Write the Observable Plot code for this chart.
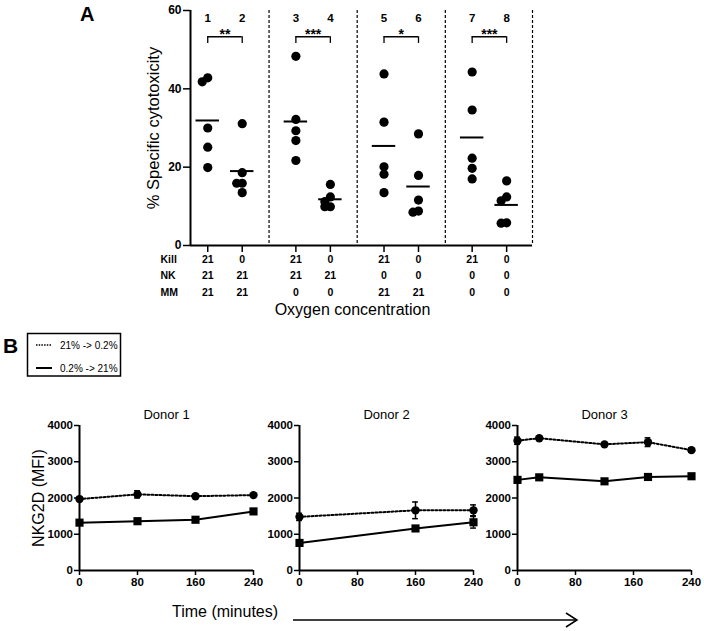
<!DOCTYPE html>
<html><head><meta charset="utf-8">
<script src="https://cdn.jsdelivr.net/npm/d3@7"></script>
<script src="https://cdn.jsdelivr.net/npm/@observablehq/plot@0.6"></script>
<style>
body{margin:0;background:#fff;font-family:"Liberation Sans",Arial,sans-serif;}
#root{position:relative;width:704px;height:631px;overflow:hidden;background:#fff;}
</style></head>
<body><div id="root"></div>
<script>
// ---------- Panel A data ----------
const groupIds = ["1","2","3","4","5","6","7","8"];
const killO2 = ["21","0","21","0","21","0","21","0"];
const nkO2   = ["21","21","21","21","0","0","0","0"];
const mmO2   = ["21","21","0","0","21","21","0","0"];
const rowLabels = ["Kill","NK","MM"];
const cytotoxicity = [
  [42.8, 41.8, 30.0, 25.1, 19.9],
  [31.1, 18.6, 15.9, 15.9, 13.5],
  [48.3, 32.2, 29.3, 26.8, 21.7],
  [15.6, 12.4, 11.2, 9.9, 9.9],
  [43.8, 31.5, 20.1, 18.2, 13.5],
  [28.5, 17.9, 11.6, 8.8, 8.5],
  [44.3, 34.6, 22.3, 19.7, 17.0],
  [16.5, 12.4, 11.4, 5.8, 5.7]
];
const significance = ["**","***","*","***"];
const yTicksA = [0, 20, 40, 60];

// ---------- Panel B data ----------
const donorNames = ["Donor 1","Donor 2","Donor 3"];
const donorTimes = [[0,80,160,240],[0,160,240],[0,30,120,180,240]];
const hypoxiaMFI = [[1970,2100,2050,2080],[1480,1660,1660],[3580,3650,3480,3540,3320]]; // 21% -> 0.2%
const hypoxiaSEM = [[0,100,0,0],[100,230,150],[100,0,0,120,60]];
const reoxMFI    = [[1320,1360,1400,1630],[760,1160,1330],[2500,2570,2460,2580,2600]]; // 0.2% -> 21%
const reoxSEM    = [[0,0,0,50],[0,60,160],[80,0,0,0,0]];
const seriesNames = ["21% -> 0.2%","0.2% -> 21%"];
const xTicksB = [0, 80, 160, 240];
const yTicksB = [0, 1000, 2000, 3000, 4000];

const FONT = "'Liberation Sans', Arial, sans-serif";
const root = document.getElementById("root");
function place(node, left, top, width) {
  const wrap = document.createElement("div");
  wrap.style.position = "absolute";
  wrap.style.left = left + "px";
  wrap.style.top = top + "px";
  wrap.style.width = width + "px";
  wrap.appendChild(node);
  root.appendChild(wrap);
}

// ---------- Panel A ----------
const pairGap = 0.556;
const pos = i => i + pairGap * Math.floor(i / 2);
const xDomainA = [pos(0) - 0.5, pos(7) + 0.75];
const pxPerX = 342 / (xDomainA[1] - xDomainA[0]);
const pxPerY = 235 / 60;

// simple collision-avoiding horizontal offset for overlapping dots
const points = [];
cytotoxicity.forEach((vals, g) => {
  const placed = [];
  vals.forEach(v => {
    const cands = [0, -0.16, 0.16, -0.32, 0.32];
    let off = 0;
    for (const c of cands) {
      const ok = placed.every(p => Math.hypot((p.off - c) * pxPerX, (p.v - v) * pxPerY) >= 5);
      if (ok) { off = c; break; }
    }
    placed.push({v, off});
    points.push({group: g, x: pos(g) + off, v});
  });
});
const means = cytotoxicity.map((vals, g) => ({x: pos(g), m: d3.mean(vals)}));
const pairs = significance.map((s, k) => ({x1: pos(2 * k), x2: pos(2 * k + 1), s}));
const separators = [0, 1, 2].map(k => (pos(2 * k + 1) + pos(2 * k + 2)) / 2).concat([xDomainA[1]]);
const bracketLevel = 53.3, bracketDrop = 1.7;
const rowDy = [17, 33.5, 50];
const rows = [killO2, nkO2, mmO2];

const marksA = [
  Plot.ruleX(separators, {strokeDasharray: "3,2", strokeWidth: 1.2}),
  Plot.axisY({ticks: yTicksA, tickSize: 7, tickPadding: 2, label: null, strokeWidth: 1.5}),
  Plot.axisX({ticks: groupIds.map((d, i) => pos(i)), tickFormat: () => "", tickSize: 7, label: null, strokeWidth: 1.5}),
  Plot.ruleX([xDomainA[0]], {strokeWidth: 2}),
  Plot.ruleY([0], {strokeWidth: 2}),
  Plot.dot(points, {x: "x", y: "v", r: 4.6, fill: "black", stroke: "none"}),
  Plot.ruleY(means, {y: "m", x1: d => d.x - 0.34, x2: d => d.x + 0.34, strokeWidth: 2}),
  Plot.ruleY(pairs, {y: bracketLevel, x1: "x1", x2: "x2", strokeWidth: 1.3}),
  Plot.ruleX(pairs, {x: "x1", y1: bracketLevel, y2: bracketLevel - bracketDrop, strokeWidth: 1.3}),
  Plot.ruleX(pairs, {x: "x2", y1: bracketLevel, y2: bracketLevel - bracketDrop, strokeWidth: 1.3}),
  Plot.text(pairs, {x: d => (d.x1 + d.x2) / 2, y: bracketLevel, text: "s", fontSize: 14, dy: -2, lineAnchor: "middle", fill: "black"}),
  Plot.text(groupIds, {x: (d, i) => pos(i), text: d => d, frameAnchor: "top", dy: 3, fontSize: 11.5, fill: "black"}),
  Plot.text(["Oxygen concentration"], {text: d => d, frameAnchor: "bottom", dx: -9, dy: 69, fontSize: 16, fontWeight: "normal", fill: "black"}),
  Plot.text(["% Specific cytotoxicity"], {text: d => d, frameAnchor: "left", textAnchor: "middle", dx: -37, rotate: -90, fontSize: 16.5, fontWeight: "normal", fill: "black"})
];
rows.forEach((row, r) => {
  marksA.push(Plot.text(row, {x: (d, i) => pos(i), text: d => d, frameAnchor: "bottom", dy: rowDy[r], fontSize: 10.5, fill: "black"}));
  marksA.push(Plot.text([rowLabels[r]], {text: d => d, frameAnchor: "bottom-left", textAnchor: "start", dx: -30, dy: rowDy[r], fontSize: 10.5, fill: "black"}));
});

const plotA = Plot.plot({
  width: 560, height: 330,
  marginLeft: 190, marginRight: 28, marginTop: 10, marginBottom: 85,
  x: {domain: xDomainA},
  y: {domain: [0, 60]},
  style: {fontFamily: FONT, fontSize: "12px", fontWeight: "bold", background: "transparent", color: "black", overflow: "visible"},
  marks: marksA
});
place(plotA, 0, 0, 560);

// ---------- Panel B ----------
const donorLefts = [0, 220, 438];
donorNames.forEach((name, k) => {
  const dotted = donorTimes[k].map((t, i) => ({t, v: hypoxiaMFI[k][i], e: hypoxiaSEM[k][i]}));
  const solid = donorTimes[k].map((t, i) => ({t, v: reoxMFI[k][i], e: reoxSEM[k][i]}));
  const errs = dotted.concat(solid).filter(d => d.e > 0);
  const marks = [
    Plot.axisY({ticks: yTicksB, tickFormat: d => String(d), tickSize: 5, tickPadding: 1.5, label: null, strokeWidth: 1.5}),
    Plot.axisX({ticks: xTicksB, tickFormat: d => String(d), tickSize: 5, tickPadding: 2.5, label: null, strokeWidth: 1.5}),
    Plot.ruleX([0], {strokeWidth: 2}),
    Plot.ruleY([0], {strokeWidth: 2}),
    Plot.line(dotted, {x: "t", y: "v", strokeDasharray: "2,2", strokeWidth: 2}),
    Plot.line(solid, {x: "t", y: "v", strokeWidth: 2}),
    Plot.ruleX(errs, {x: "t", y1: d => d.v - d.e, y2: d => d.v + d.e, strokeWidth: 1.5}),
    Plot.ruleY(errs, {y: d => d.v + d.e, x1: d => d.t - 4, x2: d => d.t + 4, strokeWidth: 1.5}),
    Plot.ruleY(errs, {y: d => d.v - d.e, x1: d => d.t - 4, x2: d => d.t + 4, strokeWidth: 1.5}),
    Plot.dot(dotted, {x: "t", y: "v", r: 4.2, fill: "black", stroke: "none", symbol: "circle"}),
    Plot.dot(solid, {x: "t", y: "v", r: 4.6, fill: "black", stroke: "none", symbol: "square"}),
    Plot.text([name], {text: d => d, frameAnchor: "top", dy: -11, lineAnchor: "middle", fontSize: 13, fontWeight: "normal", fill: "black"})
  ];
  if (k === 0) marks.push(Plot.text(["NKG2D (MFI)"], {text: d => d, frameAnchor: "left", textAnchor: "middle", dx: -41, rotate: -90, fontSize: 16, fontWeight: "normal", fill: "black"}));
  const p = Plot.plot({
    width: 270, height: 200,
    marginLeft: 79, marginRight: 17, marginTop: 30, marginBottom: 25,
    x: {domain: [0, 240]},
    y: {domain: [0, 4000]},
    style: {fontFamily: FONT, fontSize: "11.5px", fontWeight: "bold", background: "transparent", color: "black", overflow: "visible"},
    marks
  });
  place(p, donorLefts[k], 395, 270);
});

// ---------- Annotations overlay (panel letters, legend, time arrow) ----------
const ov = d3.create("svg").attr("width", 704).attr("height", 631)
  .style("position", "absolute").style("left", "0px").style("top", "0px").style("pointer-events", "none")
  .attr("font-family", FONT);
ov.append("text").attr("x", 80).attr("y", 21).attr("font-size", 20).attr("font-weight", "bold").text("A");
ov.append("text").attr("x", 3).attr("y", 353).attr("font-size", 21).attr("font-weight", "bold").text("B");
ov.append("rect").attr("x", 27.5).attr("y", 333.5).attr("width", 93).attr("height", 42.5)
  .attr("fill", "none").attr("stroke", "black").attr("stroke-width", 1.5);
const legendDash = ["1.5,1.2", null];
const legendY = [345, 368];
seriesNames.forEach((s, i) => {
  const l = ov.append("line").attr("x1", 36).attr("x2", 52).attr("y1", legendY[i]).attr("y2", legendY[i])
    .attr("stroke", "black").attr("stroke-width", i === 0 ? 1.5 : 2);
  if (legendDash[i]) l.attr("stroke-dasharray", legendDash[i]);
  ov.append("text").attr("x", 60).attr("y", legendY[i] + 4).attr("font-size", 10).text(s);
});
ov.append("text").attr("x", 172).attr("y", 617).attr("font-size", 16).text("Time (minutes)");
ov.append("line").attr("x1", 293).attr("x2", 577).attr("y1", 620).attr("y2", 620).attr("stroke", "black").attr("stroke-width", 1.5);
ov.append("path").attr("d", "M566,613 L577,620 L566,627").attr("fill", "none").attr("stroke", "black").attr("stroke-width", 1.5);
root.appendChild(ov.node());
</script>
</body></html>
